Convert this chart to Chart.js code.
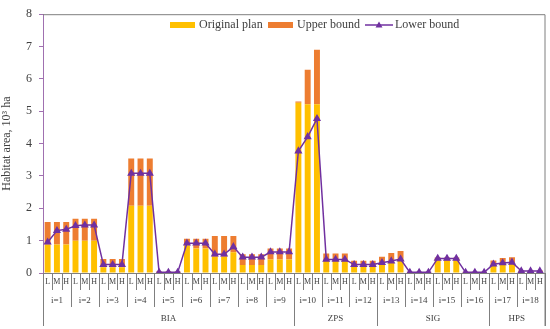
<!DOCTYPE html>
<html lang="en">
	<head>
		<meta charset="UTF-8"/>
		<title>Habitat area by scenario</title>
		<script src="https://cdn.jsdelivr.net/npm/chart.js@4.4.1/dist/chart.umd.min.js"></script>
		<style>
			html, body { margin: 0; padding: 0; background: #fff; }
			#wrap { width: 550px; height: 329px; }
		</style>
	</head>
	<body>
		<div id="wrap"><canvas id="chart"></canvas></div>
		<script>

			// x axis levels
			const levels = ['L', 'M', 'H'];
			const subsets = ['i=1','i=2','i=3','i=4','i=5','i=6','i=7','i=8','i=9',
				'i=10','i=11','i=12','i=13','i=14','i=15','i=16','i=17','i=18'];
			const regions = ['BIA', 'ZPS', 'SIG', 'HPS'];
			const regionSize = [9, 3, 4, 2];   // number of i=.. per region

			// values, 10^3 ha, read per L/M/H bar
			const originalPlan = [
				0.88,0.88,0.88, 1.00,1.00,1.00, 0.18,0.18,0.18, 2.08,2.08,2.08, 0.02,0.02,0.02,
				0.86,0.76,0.76, 0.50,0.50,0.64, 0.25,0.25,0.25, 0.42,0.42,0.42,
				5.26,5.22,5.22, 0.38,0.38,0.38, 0.22,0.22,0.22,
				0.33,0.38,0.43, 0.02,0.02,0.02, 0.38,0.38,0.38, 0.02,0.02,0.02,
				0.26,0.30,0.33, 0.06,0.06,0.06
			];
			const upperBound = [   // increment above original plan
				0.70,0.70,0.70, 0.68,0.68,0.68, 0.25,0.25,0.25, 1.46,1.46,1.46, 0.03,0.03,0.03,
				0.20,0.30,0.30, 0.64,0.64,0.50, 0.33,0.33,0.33, 0.34,0.34,0.34,
				0.04,1.06,1.68, 0.22,0.22,0.22, 0.16,0.16,0.16,
				0.17,0.24,0.25, 0.02,0.02,0.02, 0.10,0.10,0.10, 0.02,0.02,0.02,
				0.13,0.16,0.16, 0.02,0.02,0.02
			];
			const lowerBound = [
				0.95,1.31,1.35, 1.46,1.48,1.48, 0.26,0.26,0.26, 3.08,3.08,3.08, 0.02,0.02,0.02,
				0.92,0.92,0.92, 0.58,0.58,0.81, 0.49,0.49,0.49, 0.65,0.65,0.65,
				3.77,4.21,4.77, 0.42,0.42,0.42, 0.26,0.26,0.26,
				0.32,0.37,0.43, 0.02,0.02,0.02, 0.45,0.45,0.45, 0.02,0.02,0.02,
				0.27,0.31,0.33, 0.06,0.06,0.06
			];

			const labels = [];
			subsets.forEach(s => levels.forEach(l => labels.push(s + ' ' + l)));

			const serif = "'Liberation Serif', 'DejaVu Serif', serif";
			const yellow = '#FFC000';
			const orange = '#ED7D31';
			const purple = '#7030A0';
			const frame = '#7f7f7f';

			// multi level category labels + frame
			const axisLabels = {
				id: 'axisLabels',
				afterDraw(chart) {
					const ctx = chart.ctx;
					const x = chart.scales.x;
					const area = chart.chartArea;
					const step = x.getPixelForValue(1) - x.getPixelForValue(0);
					const base = area.bottom;
					ctx.save();
					ctx.strokeStyle = frame;
					ctx.lineWidth = 1;
					// top and right border
					ctx.beginPath();
					ctx.moveTo(area.left, area.top + 0.5);
					ctx.lineTo(area.right + 0.5, area.top + 0.5);
					ctx.lineTo(area.right + 0.5, base + 53);
					ctx.stroke();

					ctx.fillStyle = '#404040';
					ctx.textAlign = 'center';
					ctx.textBaseline = 'middle';

					// separators
					for (let k = 0; k <= labels.length; k++) {
						const px = Math.round(x.getPixelForValue(k) - step / 2) + 0.5;
						let len = 17;
						if (k % 3 === 0) len = 34;
						let acc = 0;
						regionSize.forEach(n => { acc += n * 3; if (acc === k) len = 53; });
						if (k === 0 || k === labels.length) len = 53;
						ctx.beginPath();
						ctx.moveTo(px, base);
						ctx.lineTo(px, base + len);
						ctx.stroke();
					}

					// L M H
					ctx.font = '8px ' + serif;
					labels.forEach((lab, k) => {
						ctx.fillText(levels[k % 3], x.getPixelForValue(k), base + 9);
					});
					// i=..
					ctx.font = '9px ' + serif;
					subsets.forEach((s, j) => {
						ctx.fillText(s, x.getPixelForValue(j * 3 + 1), base + 28);
					});
					// regions
					let start = 0;
					regions.forEach((r, j) => {
						const n = regionSize[j] * 3;
						const mid = (x.getPixelForValue(start) + x.getPixelForValue(start + n - 1)) / 2;
						ctx.fillText(r, mid, base + 46);
						start += n;
					});

					// legend
					ctx.font = '12px ' + serif;
					ctx.textAlign = 'left';
					const ly = 25;
					let lx = 170;
					ctx.fillStyle = yellow;
					ctx.fillRect(lx, ly - 3, 25, 6);
					ctx.fillStyle = '#404040';
					ctx.fillText('Original plan', lx + 29, ly);
					lx = 268;
					ctx.fillStyle = orange;
					ctx.fillRect(lx, ly - 3, 25, 6);
					ctx.fillStyle = '#404040';
					ctx.fillText('Upper bound', lx + 29, ly);
					lx = 365;
					ctx.strokeStyle = purple;
					ctx.lineWidth = 1.5;
					ctx.beginPath();
					ctx.moveTo(lx, ly);
					ctx.lineTo(lx + 28, ly);
					ctx.stroke();
					ctx.fillStyle = purple;
					ctx.beginPath();
					ctx.moveTo(lx + 14, ly - 3.5);
					ctx.lineTo(lx + 17.5, ly + 2.5);
					ctx.lineTo(lx + 10.5, ly + 2.5);
					ctx.closePath();
					ctx.fill();
					ctx.fillStyle = '#404040';
					ctx.fillText('Lower bound', lx + 30, ly);
					ctx.restore();
				}
			};

			const ctx = document.getElementById('chart').getContext('2d');
			const myChart = new Chart(ctx, {
				type: 'bar',
				data: {
					labels: labels,
					datasets: [
						{
							type: 'line',
							label: 'Lower bound',
							data: lowerBound,
							stack: 'lower',
							borderColor: purple,
							backgroundColor: purple,
							borderWidth: 1.5,
							pointStyle: 'triangle',
							pointRadius: 3.2,
							tension: 0,
							order: 0
						},
						{
							label: 'Original plan',
							data: originalPlan,
							stack: 'bars',
							backgroundColor: yellow,
							barPercentage: 0.64,
							categoryPercentage: 1,
							order: 1
						},
						{
							label: 'Upper bound',
							data: upperBound,
							stack: 'bars',
							backgroundColor: orange,
							barPercentage: 0.64,
							categoryPercentage: 1,
							order: 1
						}
					]
				},
				options: {
					responsive: true,
					maintainAspectRatio: false,
					animation: false,
					layout: { padding: { top: 7, right: 3, left: 0, bottom: 0 } },
					plugins: {
						legend: { display: false },
						tooltip: { enabled: false }
					},
					scales: {
						x: {
							stacked: true,
							offset: true,
							ticks: { display: false },
							grid: { display: false },
							border: { display: true, color: frame },
							afterFit(scale) { scale.height = 56; }
						},
						y: {
							stacked: true,
							min: 0,
							max: 8,
							ticks: {
								stepSize: 1,
								color: '#404040',
								padding: 7,
								font: { family: serif, size: 12 }
							},
							grid: {
								drawOnChartArea: false,
								drawTicks: true,
								tickLength: 4,
								color: '#a070b0'
							},
							border: { display: true, color: '#a070b0' },
							title: {
								display: true,
								text: 'Habitat area, 10³ ha',
								color: '#404040',
								padding: { top: 0, bottom: 2 },
								font: { family: serif, size: 12 }
							},
							afterFit(scale) { scale.width = 43; }
						}
					}
				},
				plugins: [axisLabels]
			});
		</script>
	</body>
</html>
